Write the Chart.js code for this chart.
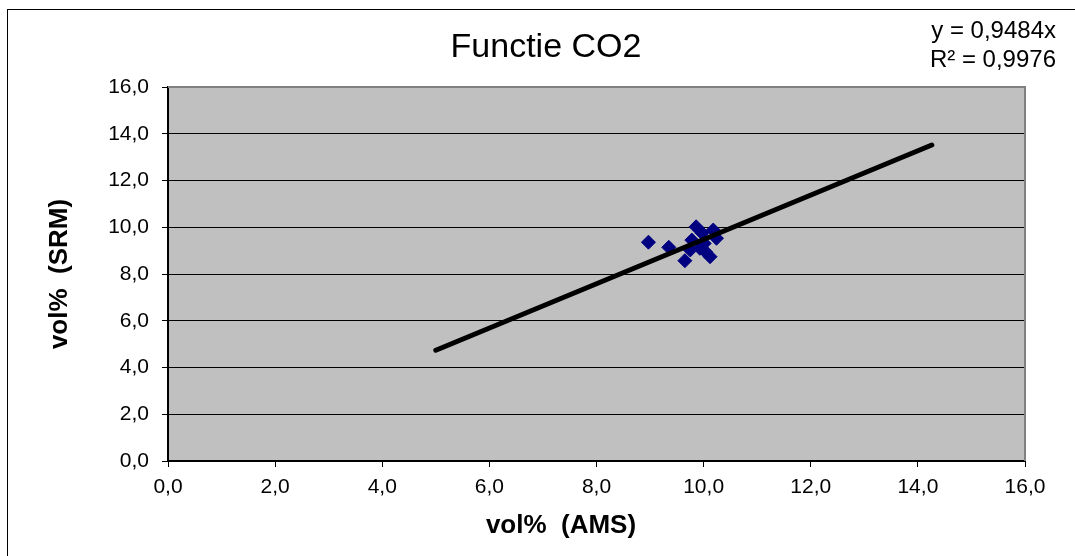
<!DOCTYPE html>
<html>
<head>
<meta charset="utf-8">
<script src="https://cdn.jsdelivr.net/npm/chart.js@4/dist/chart.umd.min.js"></script>
<style>
  html, body { margin: 0; padding: 0; background: #ffffff; }
  #wrap { width: 1075px; height: 556px; position: relative; }
</style>
</head>
<body>
<div id="wrap"><canvas id="c" width="1075" height="556"></canvas></div>
<script>
// ---- data ----
const measX = [8.97, 9.35, 9.65, 9.86, 10.18, 9.78, 10.12, 9.93, 10.24, 9.75, 10.01, 9.97, 10.04];
const measY = [9.36, 9.14, 8.57, 10.02, 9.88, 9.45, 8.74, 9.10, 9.53, 9.03, 9.31, 9.75, 8.94];
const trendX = [5.0, 14.26];
const trendY = [4.74, 13.52];
const yTicks = [0, 2, 4, 6, 8, 10, 12, 14, 16];
const xTicks = [0, 2, 4, 6, 8, 10, 12, 14, 16];
const chartTitle = 'Functie CO2';
const xTitle = 'vol%  (AMS)';
const yTitle = 'vol%  (SRM)';
const eqLines = ['y = 0,9484x', 'R\u00B2 = 0,9976'];

const FONT = "'Liberation Sans', Arial, sans-serif";
const fmt = v => v.toFixed(1).replace('.', ',');

const scatterPts = measX.map((x, i) => ({ x: x, y: measY[i] }));
const trendPts = trendX.map((x, i) => ({ x: x, y: trendY[i] }));

const decor = {
  id: 'decor',
  beforeDraw(chart) {
    const { ctx, chartArea: a } = chart;
    ctx.save();
    ctx.fillStyle = '#ffffff';
    ctx.fillRect(0, 0, chart.width, chart.height);
    // outer frame
    ctx.strokeStyle = '#000000';
    ctx.lineWidth = 1;
    ctx.strokeRect(7.5, 9.5, 1200, 700);
    // plot background
    ctx.fillStyle = '#C0C0C0';
    ctx.fillRect(a.left, a.top, a.right - a.left, a.bottom - a.top);
    ctx.restore();
  },
  afterDatasetsDraw(chart) {
    const { ctx, chartArea: a } = chart;
    ctx.save();
    ctx.strokeStyle = '#808080';
    ctx.lineWidth = 2;
    ctx.beginPath();
    ctx.moveTo(a.left, a.top);
    ctx.lineTo(a.right, a.top);
    ctx.lineTo(a.right, a.bottom);
    ctx.stroke();
    ctx.restore();
  },
  afterDraw(chart) {
    const { ctx } = chart;
    ctx.save();
    ctx.fillStyle = '#000000';
    ctx.textBaseline = 'middle';
    // chart title
    ctx.textAlign = 'center';
    ctx.font = '34px ' + FONT;
    ctx.fillText(chartTitle, 546, 48);
    // x axis title
    ctx.font = 'bold 26px ' + FONT;
    ctx.fillText(xTitle, 561, 526);
    // regression label
    ctx.textAlign = 'right';
    ctx.font = '24px ' + FONT;
    ctx.fillText(eqLines[0], 1056, 31);
    ctx.fillText(eqLines[1], 1056, 60);
    ctx.restore();
  }
};

new Chart(document.getElementById('c'), {
  type: 'scatter',
  data: {
    datasets: [
      {
        label: 'meting',
        data: scatterPts,
        pointStyle: 'rectRot',
        pointRadius: 7,
        pointHoverRadius: 7,
        backgroundColor: '#000080',
        borderColor: '#000080',
        borderWidth: 1,
        order: 2
      },
      {
        label: 'trend',
        type: 'line',
        data: trendPts,
        showLine: true,
        borderColor: '#000000',
        borderWidth: 5,
        borderCapStyle: 'round',
        pointRadius: 0,
        fill: false,
        order: 1
      }
    ]
  },
  options: {
    responsive: false,
    animation: false,
    events: [],
    layout: { padding: { top: 87, left: 8, right: 50, bottom: 8 } },
    plugins: {
      legend: { display: false },
      title: { display: false },
      tooltip: { enabled: false }
    },
    scales: {
      x: {
        type: 'linear',
        min: 0, max: 16,
        afterFit: s => { s.height = 87; },
        afterBuildTicks: s => { s.ticks = xTicks.map(v => ({ value: v })); },
        ticks: {
          callback: v => fmt(v),
          color: '#000000',
          font: { family: FONT, size: 21 },
          padding: 8,
          maxRotation: 0
        },
        grid: {
          drawOnChartArea: false,
          drawTicks: true,
          tickLength: 6,
          tickColor: '#000000'
        },
        border: { display: true, color: '#000000', width: 2 }
      },
      y: {
        type: 'linear',
        min: 0, max: 16,
        afterFit: s => { s.width = 160; },
        afterBuildTicks: s => { s.ticks = yTicks.map(v => ({ value: v })); },
        ticks: {
          callback: v => fmt(v),
          color: '#000000',
          font: { family: FONT, size: 21 },
          padding: 13
        },
        grid: {
          color: ctx => (ctx.tick && ctx.tick.value === 16) ? '#808080' : '#000000',
          lineWidth: 1,
          drawTicks: true,
          tickLength: 6,
          tickColor: '#000000'
        },
        border: { display: true, color: '#000000', width: 2 },
        title: {
          display: true,
          text: yTitle,
          color: '#000000',
          font: { family: FONT, size: 26, weight: 'bold' },
          padding: { top: 36, bottom: 0 }
        }
      }
    }
  },
  plugins: [decor]
});
</script>
</body>
</html>
